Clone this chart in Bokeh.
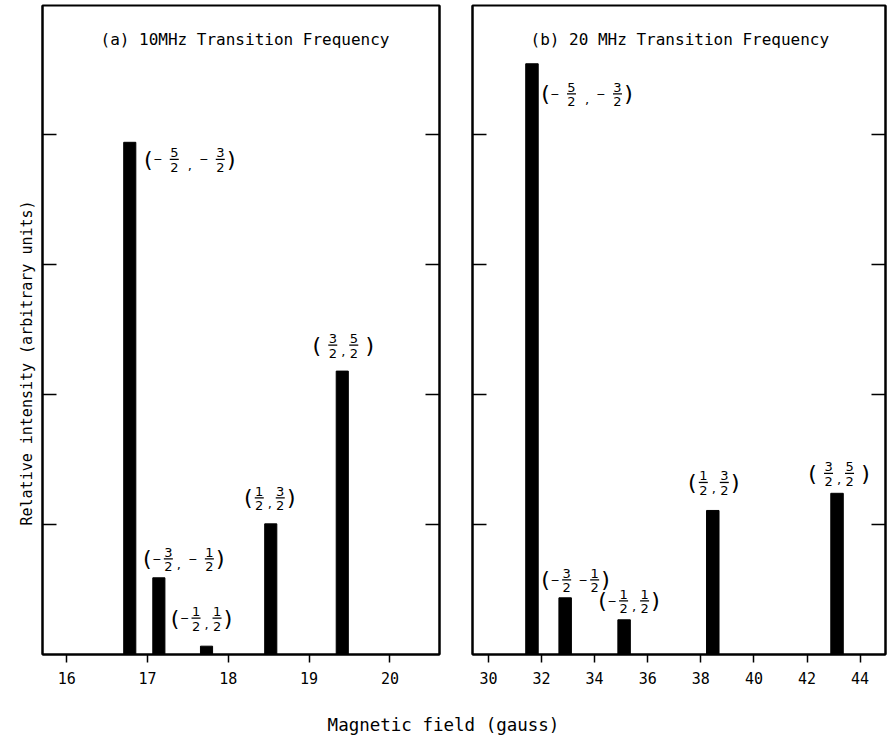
from bokeh.plotting import figure
from bokeh.models import Range1d, LinearAxis, FixedTicker, Title, ColumnDataSource
from bokeh.layouts import column, row
from bokeh.embed import file_html
from bokeh.resources import INLINE
from bokeh.core.properties import value

FONT = "DejaVu Sans"
MONO = "DejaVu Sans Mono"

# ---------------- data ----------------
# (a) 10 MHz transition frequency
a_field = [16.78, 17.14, 17.73, 18.525, 19.41]
a_intensity = [3.94, 0.59, 0.064, 1.005, 2.18]
a_labels = ["(- 5/2 , - 3/2)", "(-3/2, - 1/2)", "(-1/2,1/2)", "(1/2,3/2)", "( 3/2,5/2 )"]
a_xticks = [16, 17, 18, 19, 20]

# (b) 20 MHz transition frequency
b_field = [31.64, 32.89, 35.11, 38.45, 43.13]
b_intensity = [4.544, 0.436, 0.267, 1.108, 1.24]
b_labels = ["(- 5/2 , - 3/2)", "(-3/2 -1/2)", "(-1/2,1/2)", "(1/2,3/2)", "( 3/2,5/2 )"]
b_xticks = [30, 32, 34, 36, 38, 40, 42, 44]

y_ticks = [1, 2, 3, 4]

title_a = "(a)  10MHz Transition Frequency"
title_b = "(b)  20 MHz Transition Frequency"
y_title = "Relative intensity (arbitrary units)"
x_title = "Magnetic field (gauss)"

# ---------------- layout constants (pixels) ----------------
KY = 130.0           # px per intensity unit
FRAME_H = 649
YTOP = FRAME_H / KY
KX_A = 80.8          # px per gauss, panel a
KX_B = 26.55         # px per gauss, panel b
FW_A = 397
FW_B = 413
XA0 = 15.70
XB0 = 29.40

# label placement: (dx of left edge from bar centre, dy of fraction line above bar top)
a_off = [(14, -17), (-16, 19), (-36, 28), (-27, 26), (-30, 26)]
b_off = [(9, -30), (-24, 18), (-26, 19), (-25, 28), (-29, 20)]

W = {"(": 9, ")": 9, "-": 10, ",": 8, " ": 5, "frac": 13}


def tokenize(spec):
    toks = []
    i = 0
    while i < len(spec):
        c = spec[i]
        if c.isdigit() and i + 2 < len(spec) and spec[i + 1] == "/":
            toks.append(("frac", spec[i], spec[i + 2]))
            i += 3
        else:
            toks.append((c,))
            i += 1
    return toks


def add_labels(p, xs, tops, specs, offs, kx):
    par = dict(x=[], y=[], t=[])
    dig = dict(x=[], y=[], t=[])
    mns = dict(x=[], y=[], t=[])
    com = dict(x=[], y=[], t=[])
    seg = dict(x0=[], x1=[], y=[])
    for x0, t0, spec, (dx, dy) in zip(xs, tops, specs, offs):
        cur = dx
        yl = t0 + dy / KY
        for tok in tokenize(spec):
            kind = tok[0]
            w = W[kind]
            cx = x0 + (cur + w / 2.0) / kx
            if kind in "()":
                par["x"].append(cx); par["y"].append(yl); par["t"].append(kind)
            elif kind == "-":
                mns["x"].append(cx); mns["y"].append(yl); mns["t"].append("\u2212")
            elif kind == ",":
                com["x"].append(cx); com["y"].append(yl - 6.0 / KY); com["t"].append(",")
            elif kind == "frac":
                dig["x"] += [cx, cx]
                dig["y"] += [yl + 6.5 / KY, yl - 8.0 / KY]
                dig["t"] += [tok[1], tok[2]]
                seg["x0"].append(cx - 4.5 / kx); seg["x1"].append(cx + 4.5 / kx); seg["y"].append(yl)
            cur += w
    common = dict(text_font=value(FONT), text_align="center", text_color="black",
                  text_baseline="middle")
    p.text(x="x", y="y", text="t", source=ColumnDataSource(par), text_font_size=value("22px"), **common)
    p.text(x="x", y="y", text="t", source=ColumnDataSource(dig), text_font_size=value("13px"), **common)
    p.text(x="x", y="y", text="t", source=ColumnDataSource(mns), text_font_size=value("11px"), **common)
    p.text(x="x", y="y", text="t", source=ColumnDataSource(com), text_font_size=value("13px"), **common)
    p.segment(x0="x0", x1="x1", y0="y", y1="y", source=ColumnDataSource(seg),
              line_color="black", line_width=1.3)


def style_yaxis(ax):
    ax.ticker = FixedTicker(ticks=y_ticks)
    ax.major_tick_in = 14
    ax.major_tick_out = 0
    ax.minor_tick_line_color = None
    ax.major_label_text_color = None
    ax.major_label_text_font_size = "2px"
    ax.major_label_standoff = 0
    ax.axis_line_width = 2
    ax.major_tick_line_width = 1.5


def make_panel(x0, kx, fw, ml, mr, xticks, xs, tops, specs, offs, bar_w, title, title_dx):
    p = figure(x_range=Range1d(x0, x0 + fw / kx), y_range=Range1d(0, YTOP),
               frame_width=fw, frame_height=FRAME_H,
               min_border_left=ml, min_border_right=mr, min_border_top=5, min_border_bottom=40,
               output_backend="svg", toolbar_location=None)
    p.grid.visible = False
    p.outline_line_color = "black"
    p.outline_line_width = 2
    p.background_fill_color = "white"
    p.border_fill_color = "white"

    xa = p.xaxis[0]
    xa.ticker = FixedTicker(ticks=xticks)
    xa.major_tick_in = 0
    xa.major_tick_out = 8
    xa.minor_tick_line_color = None
    xa.axis_line_width = 2
    xa.major_tick_line_width = 1.5
    xa.major_label_text_font = MONO
    xa.major_label_text_font_size = "15px"
    xa.major_label_text_color = "black"
    xa.major_label_standoff = 9

    style_yaxis(p.yaxis[0])
    ra = LinearAxis()
    style_yaxis(ra)
    p.add_layout(ra, "right")

    p.vbar(x=xs, top=tops, bottom=0, width=bar_w, fill_color="black", line_color="black")
    add_labels(p, xs, tops, specs, offs, kx)

    p.text(x=[x0 + title_dx / kx], y=[(FRAME_H - 33.5) / KY], text=[title],
           text_font=value(MONO), text_font_size=value("16px"), text_align="left",
           text_baseline="middle", text_color="black")
    return p


p1 = make_panel(XA0, KX_A, FW_A, 42, 16, a_xticks, a_field, a_intensity, a_labels, a_off,
                0.15, title_a, 58)
p2 = make_panel(XB0, KX_B, FW_B, 17, 3, b_xticks, b_field, b_intensity, b_labels, b_off,
                0.47, title_b, 58)

p1.add_layout(Title(text=y_title, align="left", offset=129, text_font=MONO,
                    text_font_size="15px", text_font_style="normal", text_color="black",
                    standoff=13), "left")

p3 = figure(width=888, height=42, frame_width=888, frame_height=42, x_range=Range1d(0, 888),
            y_range=Range1d(0, 42), min_border=0, x_axis_type=None, y_axis_type=None,
            output_backend="svg", toolbar_location=None)
p3.grid.visible = False
p3.outline_line_color = None
p3.text(x=[443], y=[12], text=[x_title], text_font=value(MONO), text_font_size=value("17.5px"),
        text_align="center", text_baseline="middle", text_color="black")

layout = column(row(p1, p2), p3)
open("out.html", "w").write(file_html(layout, INLINE))
